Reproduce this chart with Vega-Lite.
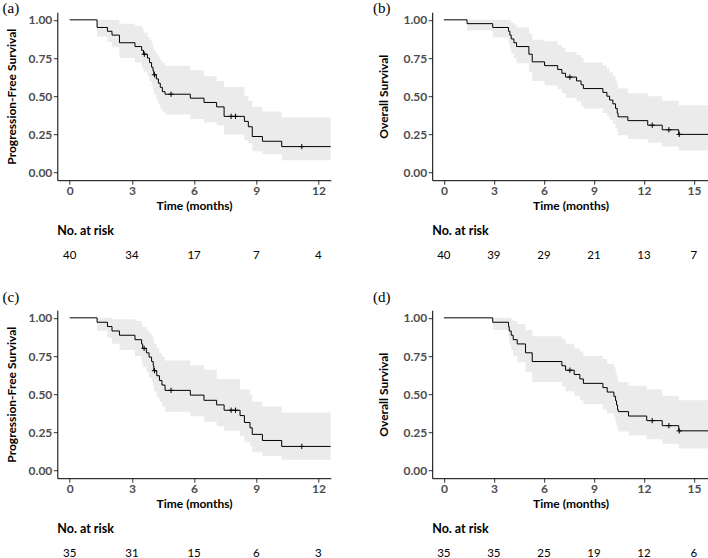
{
  "$schema": "https://vega.github.io/schema/vega-lite/v6.json",
  "autosize": {"type": "none"},
  "padding": {"left": 57.3, "top": 12.2, "right": 650.7, "bottom": 545.8},
  "bounds": "flush",
  "columns": 2,
  "spacing": {"row": 57, "column": 100.9},
  "config": {
    "view": {"stroke": null},
    "font": "Lato",
    "axis": {
      "grid": false,
      "domainColor": "black",
      "domainWidth": 1,
      "tickColor": "#333333",
      "tickSize": 4,
      "labelColor": "#4d4d4d",
      "labelFont": "Lato",
      "labelFontWeight": "bold",
      "labelFontSize": 12,
      "labelPadding": 1.5,
      "titleFont": "Lato",
      "titleFontSize": 12,
      "titleFontWeight": "bold",
      "titleColor": "black"
    }
  },
  "datasets": {
    "km": [
      {"panel": "a", "t": 0, "s": 1, "lo": 1, "hi": 1},
      {"panel": "a", "t": 1.32, "s": 0.95, "lo": 0.89, "hi": 1.0},
      {"panel": "a", "t": 1.82, "s": 0.925, "lo": 0.855, "hi": 1.0},
      {"panel": "a", "t": 2.04, "s": 0.9, "lo": 0.82, "hi": 1.0},
      {"panel": "a", "t": 2.4, "s": 0.85, "lo": 0.75, "hi": 0.975},
      {"panel": "a", "t": 3.15, "s": 0.825, "lo": 0.72, "hi": 0.96},
      {"panel": "a", "t": 3.47, "s": 0.8, "lo": 0.69, "hi": 0.945},
      {"panel": "a", "t": 3.56, "s": 0.775, "lo": 0.66, "hi": 0.915},
      {"panel": "a", "t": 3.75, "s": 0.75, "lo": 0.63, "hi": 0.89},
      {"panel": "a", "t": 3.85, "s": 0.72, "lo": 0.6, "hi": 0.87},
      {"panel": "a", "t": 3.95, "s": 0.69, "lo": 0.57, "hi": 0.845},
      {"panel": "a", "t": 4.02, "s": 0.665, "lo": 0.54, "hi": 0.82},
      {"panel": "a", "t": 4.06, "s": 0.64, "lo": 0.51, "hi": 0.8},
      {"panel": "a", "t": 4.18, "s": 0.613, "lo": 0.48, "hi": 0.78},
      {"panel": "a", "t": 4.28, "s": 0.585, "lo": 0.45, "hi": 0.76},
      {"panel": "a", "t": 4.37, "s": 0.558, "lo": 0.42, "hi": 0.735},
      {"panel": "a", "t": 4.47, "s": 0.53, "lo": 0.4, "hi": 0.715},
      {"panel": "a", "t": 4.6, "s": 0.513, "lo": 0.38, "hi": 0.7},
      {"panel": "a", "t": 5.82, "s": 0.487, "lo": 0.35, "hi": 0.67},
      {"panel": "a", "t": 6.48, "s": 0.459, "lo": 0.33, "hi": 0.63},
      {"panel": "a", "t": 7.09, "s": 0.43, "lo": 0.31, "hi": 0.6},
      {"panel": "a", "t": 7.45, "s": 0.368, "lo": 0.25, "hi": 0.56},
      {"panel": "a", "t": 8.43, "s": 0.335, "lo": 0.21, "hi": 0.5},
      {"panel": "a", "t": 8.62, "s": 0.3, "lo": 0.19, "hi": 0.47},
      {"panel": "a", "t": 8.81, "s": 0.236, "lo": 0.14, "hi": 0.43},
      {"panel": "a", "t": 9.3, "s": 0.205, "lo": 0.12, "hi": 0.4},
      {"panel": "a", "t": 10.23, "s": 0.17, "lo": 0.08, "hi": 0.36},
      {"panel": "a", "t": 12.6, "s": 0.17, "lo": 0.08, "hi": 0.36},

      {"panel": "b", "t": 0, "s": 1, "lo": 1, "hi": 1},
      {"panel": "b", "t": 1.39, "s": 0.975, "lo": 0.93, "hi": 1.0},
      {"panel": "b", "t": 2.93, "s": 0.95, "lo": 0.885, "hi": 1.0},
      {"panel": "b", "t": 3.88, "s": 0.925, "lo": 0.85, "hi": 1.0},
      {"panel": "b", "t": 3.96, "s": 0.9, "lo": 0.81, "hi": 0.995},
      {"panel": "b", "t": 4.04, "s": 0.875, "lo": 0.78, "hi": 0.98},
      {"panel": "b", "t": 4.2, "s": 0.85, "lo": 0.75, "hi": 0.97},
      {"panel": "b", "t": 4.36, "s": 0.825, "lo": 0.715, "hi": 0.95},
      {"panel": "b", "t": 5.1, "s": 0.775, "lo": 0.66, "hi": 0.91},
      {"panel": "b", "t": 5.3, "s": 0.725, "lo": 0.6, "hi": 0.87},
      {"panel": "b", "t": 6.04, "s": 0.7, "lo": 0.57, "hi": 0.86},
      {"panel": "b", "t": 6.83, "s": 0.675, "lo": 0.545, "hi": 0.835},
      {"panel": "b", "t": 7.08, "s": 0.65, "lo": 0.52, "hi": 0.815},
      {"panel": "b", "t": 7.3, "s": 0.625, "lo": 0.49, "hi": 0.79},
      {"panel": "b", "t": 7.96, "s": 0.6, "lo": 0.465, "hi": 0.77},
      {"panel": "b", "t": 8.23, "s": 0.575, "lo": 0.44, "hi": 0.75},
      {"panel": "b", "t": 8.37, "s": 0.55, "lo": 0.42, "hi": 0.72},
      {"panel": "b", "t": 9.54, "s": 0.525, "lo": 0.39, "hi": 0.7},
      {"panel": "b", "t": 9.78, "s": 0.5, "lo": 0.37, "hi": 0.68},
      {"panel": "b", "t": 9.94, "s": 0.475, "lo": 0.345, "hi": 0.655},
      {"panel": "b", "t": 10.14, "s": 0.45, "lo": 0.32, "hi": 0.63},
      {"panel": "b", "t": 10.3, "s": 0.42, "lo": 0.29, "hi": 0.6},
      {"panel": "b", "t": 10.4, "s": 0.39, "lo": 0.265, "hi": 0.575},
      {"panel": "b", "t": 10.45, "s": 0.365, "lo": 0.245, "hi": 0.55},
      {"panel": "b", "t": 11.04, "s": 0.34, "lo": 0.22, "hi": 0.52},
      {"panel": "b", "t": 12.23, "s": 0.31, "lo": 0.195, "hi": 0.5},
      {"panel": "b", "t": 13.1, "s": 0.28, "lo": 0.17, "hi": 0.47},
      {"panel": "b", "t": 14.09, "s": 0.25, "lo": 0.145, "hi": 0.44},
      {"panel": "b", "t": 15.9, "s": 0.25, "lo": 0.145, "hi": 0.44},

      {"panel": "c", "t": 0, "s": 1, "lo": 1, "hi": 1},
      {"panel": "c", "t": 1.32, "s": 0.971, "lo": 0.916, "hi": 1.0},
      {"panel": "c", "t": 1.82, "s": 0.943, "lo": 0.87, "hi": 1.0},
      {"panel": "c", "t": 2.04, "s": 0.914, "lo": 0.83, "hi": 0.99},
      {"panel": "c", "t": 2.4, "s": 0.886, "lo": 0.79, "hi": 0.99},
      {"panel": "c", "t": 3.15, "s": 0.857, "lo": 0.75, "hi": 0.98},
      {"panel": "c", "t": 3.47, "s": 0.829, "lo": 0.71, "hi": 0.96},
      {"panel": "c", "t": 3.52, "s": 0.8, "lo": 0.68, "hi": 0.94},
      {"panel": "c", "t": 3.7, "s": 0.771, "lo": 0.645, "hi": 0.92},
      {"panel": "c", "t": 3.83, "s": 0.743, "lo": 0.61, "hi": 0.9},
      {"panel": "c", "t": 3.95, "s": 0.714, "lo": 0.58, "hi": 0.88},
      {"panel": "c", "t": 4.03, "s": 0.686, "lo": 0.55, "hi": 0.86},
      {"panel": "c", "t": 4.06, "s": 0.654, "lo": 0.52, "hi": 0.83},
      {"panel": "c", "t": 4.2, "s": 0.621, "lo": 0.48, "hi": 0.8},
      {"panel": "c", "t": 4.33, "s": 0.59, "lo": 0.45, "hi": 0.77},
      {"panel": "c", "t": 4.45, "s": 0.56, "lo": 0.42, "hi": 0.745},
      {"panel": "c", "t": 4.6, "s": 0.525, "lo": 0.385, "hi": 0.72},
      {"panel": "c", "t": 5.82, "s": 0.494, "lo": 0.355, "hi": 0.69},
      {"panel": "c", "t": 6.48, "s": 0.46, "lo": 0.32, "hi": 0.66},
      {"panel": "c", "t": 7.09, "s": 0.43, "lo": 0.29, "hi": 0.6},
      {"panel": "c", "t": 7.45, "s": 0.395, "lo": 0.26, "hi": 0.6},
      {"panel": "c", "t": 8.22, "s": 0.36, "lo": 0.225, "hi": 0.53},
      {"panel": "c", "t": 8.43, "s": 0.315, "lo": 0.185, "hi": 0.53},
      {"panel": "c", "t": 8.7, "s": 0.28, "lo": 0.16, "hi": 0.5},
      {"panel": "c", "t": 8.81, "s": 0.237, "lo": 0.12, "hi": 0.45},
      {"panel": "c", "t": 9.3, "s": 0.197, "lo": 0.095, "hi": 0.42},
      {"panel": "c", "t": 10.23, "s": 0.158, "lo": 0.07, "hi": 0.38},
      {"panel": "c", "t": 12.6, "s": 0.158, "lo": 0.07, "hi": 0.38},

      {"panel": "d", "t": 0, "s": 1, "lo": 1, "hi": 1},
      {"panel": "d", "t": 2.93, "s": 0.971, "lo": 0.92, "hi": 1.0},
      {"panel": "d", "t": 3.88, "s": 0.943, "lo": 0.87, "hi": 1.0},
      {"panel": "d", "t": 3.92, "s": 0.914, "lo": 0.83, "hi": 1.0},
      {"panel": "d", "t": 4.04, "s": 0.886, "lo": 0.79, "hi": 0.99},
      {"panel": "d", "t": 4.16, "s": 0.857, "lo": 0.75, "hi": 0.98},
      {"panel": "d", "t": 4.4, "s": 0.829, "lo": 0.71, "hi": 0.96},
      {"panel": "d", "t": 4.9, "s": 0.771, "lo": 0.645, "hi": 0.92},
      {"panel": "d", "t": 5.3, "s": 0.714, "lo": 0.58, "hi": 0.88},
      {"panel": "d", "t": 7.08, "s": 0.686, "lo": 0.55, "hi": 0.86},
      {"panel": "d", "t": 7.3, "s": 0.657, "lo": 0.52, "hi": 0.83},
      {"panel": "d", "t": 7.82, "s": 0.629, "lo": 0.49, "hi": 0.8},
      {"panel": "d", "t": 8.16, "s": 0.6, "lo": 0.46, "hi": 0.78},
      {"panel": "d", "t": 8.37, "s": 0.571, "lo": 0.435, "hi": 0.75},
      {"panel": "d", "t": 9.54, "s": 0.543, "lo": 0.4, "hi": 0.73},
      {"panel": "d", "t": 9.8, "s": 0.514, "lo": 0.375, "hi": 0.7},
      {"panel": "d", "t": 10.2, "s": 0.486, "lo": 0.35, "hi": 0.68},
      {"panel": "d", "t": 10.3, "s": 0.457, "lo": 0.32, "hi": 0.65},
      {"panel": "d", "t": 10.36, "s": 0.429, "lo": 0.295, "hi": 0.62},
      {"panel": "d", "t": 10.42, "s": 0.4, "lo": 0.27, "hi": 0.595},
      {"panel": "d", "t": 10.46, "s": 0.386, "lo": 0.255, "hi": 0.58},
      {"panel": "d", "t": 11.08, "s": 0.357, "lo": 0.23, "hi": 0.555},
      {"panel": "d", "t": 12.17, "s": 0.327, "lo": 0.205, "hi": 0.53},
      {"panel": "d", "t": 13.1, "s": 0.294, "lo": 0.175, "hi": 0.49},
      {"panel": "d", "t": 14.09, "s": 0.26, "lo": 0.145, "hi": 0.46},
      {"panel": "d", "t": 15.9, "s": 0.26, "lo": 0.145, "hi": 0.46}
    ],
    "cens": [
      {"panel": "a", "t": 3.6, "s": 0.775},
      {"panel": "a", "t": 4.09, "s": 0.64},
      {"panel": "a", "t": 4.89, "s": 0.513},
      {"panel": "a", "t": 7.79, "s": 0.368},
      {"panel": "a", "t": 8.0, "s": 0.368},
      {"panel": "a", "t": 11.2, "s": 0.17},
      {"panel": "b", "t": 7.56, "s": 0.625},
      {"panel": "b", "t": 12.5, "s": 0.31},
      {"panel": "b", "t": 13.5, "s": 0.28},
      {"panel": "b", "t": 14.12, "s": 0.25},
      {"panel": "c", "t": 3.59, "s": 0.8},
      {"panel": "c", "t": 4.09, "s": 0.654},
      {"panel": "c", "t": 4.89, "s": 0.525},
      {"panel": "c", "t": 7.79, "s": 0.395},
      {"panel": "c", "t": 8.0, "s": 0.395},
      {"panel": "c", "t": 11.2, "s": 0.158},
      {"panel": "d", "t": 7.56, "s": 0.657},
      {"panel": "d", "t": 12.5, "s": 0.327},
      {"panel": "d", "t": 13.5, "s": 0.294},
      {"panel": "d", "t": 14.12, "s": 0.26}
    ],
    "risk": [
      {"panel": "a", "t": 0, "n": 40}, {"panel": "a", "t": 3, "n": 34}, {"panel": "a", "t": 6, "n": 17}, {"panel": "a", "t": 9, "n": 7}, {"panel": "a", "t": 12, "n": 4},
      {"panel": "b", "t": 0, "n": 40}, {"panel": "b", "t": 3, "n": 39}, {"panel": "b", "t": 6, "n": 29}, {"panel": "b", "t": 9, "n": 21}, {"panel": "b", "t": 12, "n": 13}, {"panel": "b", "t": 15, "n": 7},
      {"panel": "c", "t": 0, "n": 35}, {"panel": "c", "t": 3, "n": 31}, {"panel": "c", "t": 6, "n": 15}, {"panel": "c", "t": 9, "n": 6}, {"panel": "c", "t": 12, "n": 3},
      {"panel": "d", "t": 0, "n": 35}, {"panel": "d", "t": 3, "n": 35}, {"panel": "d", "t": 6, "n": 25}, {"panel": "d", "t": 9, "n": 19}, {"panel": "d", "t": 12, "n": 12}, {"panel": "d", "t": 15, "n": 6}
    ]
  },
  "concat": [
    {
      "width": 273.5, "height": 168,
      "title": {"text": "(a)", "anchor": "start", "frame": "bounds", "baseline": "middle", "offset": -10.8, "dx": -3, "font": "Liberation Serif", "fontSize": 15, "fontWeight": "normal", "color": "black"},
      "layer": [
        {"data": {"name": "km"}, "transform": [{"filter": "datum.panel === 'a'"}], "mark": {"type": "area", "interpolate": "step-after", "color": "#ebebeb", "opacity": 1, "clip": true},
         "encoding": {"x": {"field": "t", "type": "quantitative", "scale": {"domain": [-0.6, 12.6], "nice": false, "zero": false}, "axis": {"values": [0, 3, 6, 9, 12], "title": "Time (months)", "titlePadding": 3.5}},
                      "y": {"field": "lo", "type": "quantitative", "scale": {"domain": [-0.05, 1.05], "nice": false, "zero": false}, "axis": {"values": [0, 0.25, 0.5, 0.75, 1], "format": ".2f", "title": "Progression-Free Survival", "titlePadding": 9.5}},
                      "y2": {"field": "hi"}}},
        {"data": {"name": "km"}, "transform": [{"filter": "datum.panel === 'a'"}], "mark": {"type": "line", "interpolate": "step-after", "color": "black", "strokeWidth": 1, "clip": true},
         "encoding": {"x": {"field": "t", "type": "quantitative"}, "y": {"field": "s", "type": "quantitative"}}},
        {"data": {"name": "cens"}, "transform": [{"filter": "datum.panel === 'a'"}], "mark": {"type": "point", "shape": "M-1,0L1,0M0,-1L0,1", "filled": false, "stroke": "black", "strokeWidth": 1, "size": 28, "opacity": 1, "clip": true},
         "encoding": {"x": {"field": "t", "type": "quantitative"}, "y": {"field": "s", "type": "quantitative"}}}
      ]
    },
    {
      "width": 276.7, "height": 168,
      "title": {"text": "(b)", "anchor": "start", "frame": "bounds", "baseline": "middle", "offset": -10.8, "dx": -5, "font": "Liberation Serif", "fontSize": 15, "fontWeight": "normal", "color": "black"},
      "layer": [
        {"data": {"name": "km"}, "transform": [{"filter": "datum.panel === 'b'"}], "mark": {"type": "area", "interpolate": "step-after", "color": "#ebebeb", "opacity": 1, "clip": true},
         "encoding": {"x": {"field": "t", "type": "quantitative", "scale": {"domain": [-0.7, 15.9], "nice": false, "zero": false}, "axis": {"values": [0, 3, 6, 9, 12, 15], "title": "Time (months)", "titlePadding": 3.5}},
                      "y": {"field": "lo", "type": "quantitative", "scale": {"domain": [-0.05, 1.05], "nice": false, "zero": false}, "axis": {"values": [0, 0.25, 0.5, 0.75, 1], "format": ".2f", "title": "Overall Survival", "titlePadding": 12}},
                      "y2": {"field": "hi"}}},
        {"data": {"name": "km"}, "transform": [{"filter": "datum.panel === 'b'"}], "mark": {"type": "line", "interpolate": "step-after", "color": "black", "strokeWidth": 1, "clip": true},
         "encoding": {"x": {"field": "t", "type": "quantitative"}, "y": {"field": "s", "type": "quantitative"}}},
        {"data": {"name": "cens"}, "transform": [{"filter": "datum.panel === 'b'"}], "mark": {"type": "point", "shape": "M-1,0L1,0M0,-1L0,1", "filled": false, "stroke": "black", "strokeWidth": 1, "size": 28, "opacity": 1, "clip": true},
         "encoding": {"x": {"field": "t", "type": "quantitative"}, "y": {"field": "s", "type": "quantitative"}}}
      ]
    },
    {
      "width": 273.5, "height": 15.5,
      "title": {"text": "No. at risk", "anchor": "start", "frame": "group", "baseline": "middle", "offset": -5.8, "font": "Lato", "fontSize": 12.5, "fontWeight": "bold", "color": "black"},
      "data": {"name": "risk"},
      "transform": [{"filter": "datum.panel === 'a'"}],
      "mark": {"type": "text", "font": "Lato", "fontSize": 11.5, "color": "black"},
      "encoding": {
        "x": {"field": "t", "type": "quantitative", "scale": {"domain": [-0.6, 12.6], "nice": false, "zero": false}, "axis": null},
        "y": {"datum": -0.19, "type": "quantitative", "scale": {"domain": [0, 1], "nice": false, "zero": false}, "axis": null},
        "text": {"field": "n", "type": "quantitative"}
      }
    },
    {
      "width": 276.7, "height": 15.5,
      "title": {"text": "No. at risk", "anchor": "start", "frame": "group", "baseline": "middle", "offset": -5.8, "font": "Lato", "fontSize": 12.5, "fontWeight": "bold", "color": "black"},
      "data": {"name": "risk"},
      "transform": [{"filter": "datum.panel === 'b'"}],
      "mark": {"type": "text", "font": "Lato", "fontSize": 11.5, "color": "black"},
      "encoding": {
        "x": {"field": "t", "type": "quantitative", "scale": {"domain": [-0.7, 15.9], "nice": false, "zero": false}, "axis": null},
        "y": {"datum": -0.19, "type": "quantitative", "scale": {"domain": [0, 1], "nice": false, "zero": false}, "axis": null},
        "text": {"field": "n", "type": "quantitative"}
      }
    },
    {
      "width": 273.5, "height": 168,
      "title": {"text": "(c)", "anchor": "start", "frame": "bounds", "baseline": "middle", "offset": -2.2, "dx": -3, "font": "Liberation Serif", "fontSize": 15, "fontWeight": "normal", "color": "black"},
      "layer": [
        {"data": {"name": "km"}, "transform": [{"filter": "datum.panel === 'c'"}], "mark": {"type": "area", "interpolate": "step-after", "color": "#ebebeb", "opacity": 1, "clip": true},
         "encoding": {"x": {"field": "t", "type": "quantitative", "scale": {"domain": [-0.6, 12.6], "nice": false, "zero": false}, "axis": {"values": [0, 3, 6, 9, 12], "title": "Time (months)", "titlePadding": 3.5}},
                      "y": {"field": "lo", "type": "quantitative", "scale": {"domain": [-0.05, 1.05], "nice": false, "zero": false}, "axis": {"values": [0, 0.25, 0.5, 0.75, 1], "format": ".2f", "title": "Progression-Free Survival", "titlePadding": 9.5}},
                      "y2": {"field": "hi"}}},
        {"data": {"name": "km"}, "transform": [{"filter": "datum.panel === 'c'"}], "mark": {"type": "line", "interpolate": "step-after", "color": "black", "strokeWidth": 1, "clip": true},
         "encoding": {"x": {"field": "t", "type": "quantitative"}, "y": {"field": "s", "type": "quantitative"}}},
        {"data": {"name": "cens"}, "transform": [{"filter": "datum.panel === 'c'"}], "mark": {"type": "point", "shape": "M-1,0L1,0M0,-1L0,1", "filled": false, "stroke": "black", "strokeWidth": 1, "size": 28, "opacity": 1, "clip": true},
         "encoding": {"x": {"field": "t", "type": "quantitative"}, "y": {"field": "s", "type": "quantitative"}}}
      ]
    },
    {
      "width": 276.7, "height": 168,
      "title": {"text": "(d)", "anchor": "start", "frame": "bounds", "baseline": "middle", "offset": -2.2, "dx": -5, "font": "Liberation Serif", "fontSize": 15, "fontWeight": "normal", "color": "black"},
      "layer": [
        {"data": {"name": "km"}, "transform": [{"filter": "datum.panel === 'd'"}], "mark": {"type": "area", "interpolate": "step-after", "color": "#ebebeb", "opacity": 1, "clip": true},
         "encoding": {"x": {"field": "t", "type": "quantitative", "scale": {"domain": [-0.7, 15.9], "nice": false, "zero": false}, "axis": {"values": [0, 3, 6, 9, 12, 15], "title": "Time (months)", "titlePadding": 3.5}},
                      "y": {"field": "lo", "type": "quantitative", "scale": {"domain": [-0.05, 1.05], "nice": false, "zero": false}, "axis": {"values": [0, 0.25, 0.5, 0.75, 1], "format": ".2f", "title": "Overall Survival", "titlePadding": 12}},
                      "y2": {"field": "hi"}}},
        {"data": {"name": "km"}, "transform": [{"filter": "datum.panel === 'd'"}], "mark": {"type": "line", "interpolate": "step-after", "color": "black", "strokeWidth": 1, "clip": true},
         "encoding": {"x": {"field": "t", "type": "quantitative"}, "y": {"field": "s", "type": "quantitative"}}},
        {"data": {"name": "cens"}, "transform": [{"filter": "datum.panel === 'd'"}], "mark": {"type": "point", "shape": "M-1,0L1,0M0,-1L0,1", "filled": false, "stroke": "black", "strokeWidth": 1, "size": 28, "opacity": 1, "clip": true},
         "encoding": {"x": {"field": "t", "type": "quantitative"}, "y": {"field": "s", "type": "quantitative"}}}
      ]
    },
    {
      "width": 273.5, "height": 15.5,
      "title": {"text": "No. at risk", "anchor": "start", "frame": "group", "baseline": "middle", "offset": -5.8, "font": "Lato", "fontSize": 12.5, "fontWeight": "bold", "color": "black"},
      "data": {"name": "risk"},
      "transform": [{"filter": "datum.panel === 'c'"}],
      "mark": {"type": "text", "font": "Lato", "fontSize": 11.5, "color": "black"},
      "encoding": {
        "x": {"field": "t", "type": "quantitative", "scale": {"domain": [-0.6, 12.6], "nice": false, "zero": false}, "axis": null},
        "y": {"datum": -0.19, "type": "quantitative", "scale": {"domain": [0, 1], "nice": false, "zero": false}, "axis": null},
        "text": {"field": "n", "type": "quantitative"}
      }
    },
    {
      "width": 276.7, "height": 15.5,
      "title": {"text": "No. at risk", "anchor": "start", "frame": "group", "baseline": "middle", "offset": -5.8, "font": "Lato", "fontSize": 12.5, "fontWeight": "bold", "color": "black"},
      "data": {"name": "risk"},
      "transform": [{"filter": "datum.panel === 'd'"}],
      "mark": {"type": "text", "font": "Lato", "fontSize": 11.5, "color": "black"},
      "encoding": {
        "x": {"field": "t", "type": "quantitative", "scale": {"domain": [-0.7, 15.9], "nice": false, "zero": false}, "axis": null},
        "y": {"datum": -0.19, "type": "quantitative", "scale": {"domain": [0, 1], "nice": false, "zero": false}, "axis": null},
        "text": {"field": "n", "type": "quantitative"}
      }
    }
  ]
}
